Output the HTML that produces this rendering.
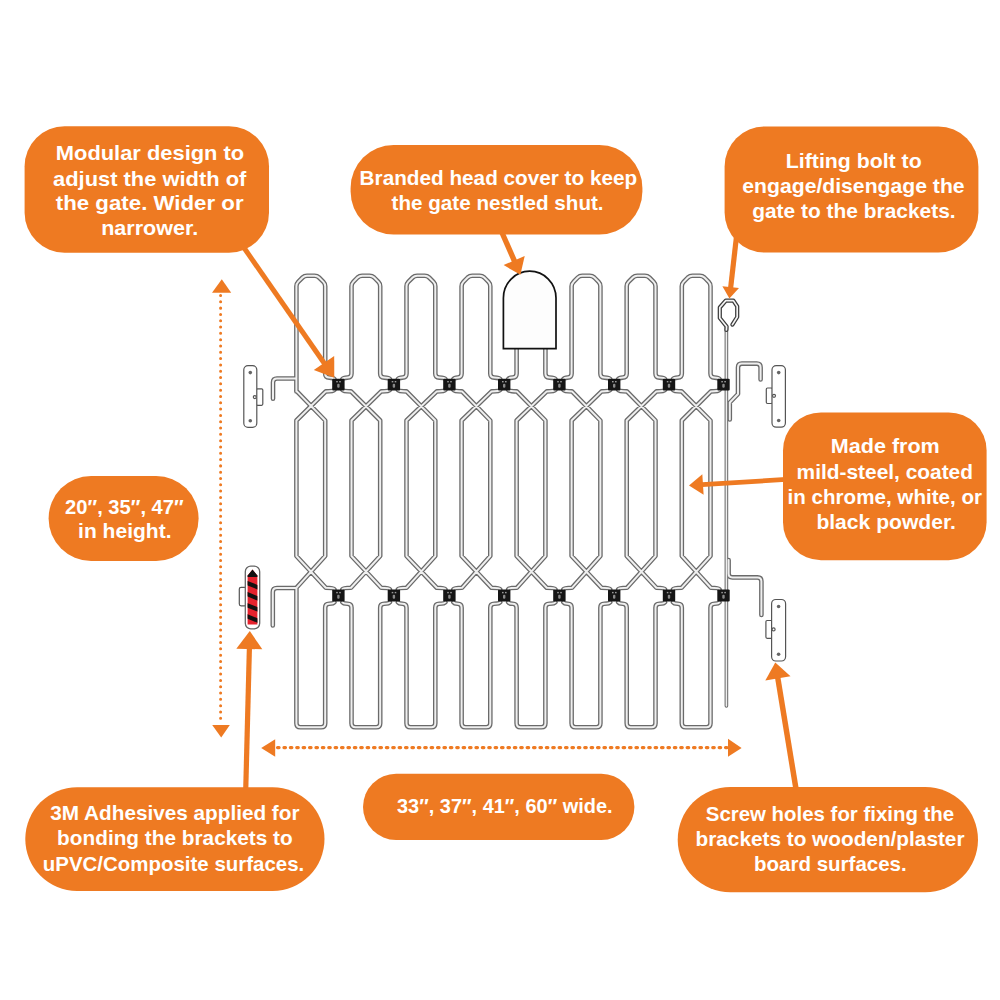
<!DOCTYPE html>
<html lang="en"><head><meta charset="utf-8"><title>Gate features</title>
<style>
html,body{margin:0;padding:0;background:#fff}
body{width:1000px;height:1000px;overflow:hidden}
svg{display:block}
text{font-family:"Liberation Sans",sans-serif;font-weight:bold;font-size:20.8px;fill:#fff}
</style></head><body>
<svg width="1000" height="1000" viewBox="0 0 1000 1000">
<rect width="1000" height="1000" fill="#fff"/>
<!-- arrows under callouts + gate -->
<g fill="none" stroke-linecap="round" stroke-linejoin="round">
<path d="M296.4 391.4 L296.4 286.3 Q296.4 283.7 298.2 281.9 L302.6 277.5 Q304.4 275.7 307 275.7 L314.6 275.7 Q317.2 275.7 319 277.5 L323.4 281.9 Q325.2 283.7 325.2 286.3 L325.2 373.6 Q325.2 377.6 329.2 377.6 Q333.4 377.6 334.4 379.1 M342.4 379.1 Q343.4 377.6 347.5 377.6 Q351.5 377.6 351.5 373.6 L351.5 286.3 Q351.5 283.7 353.3 281.9 L357.6 277.5 Q359.5 275.7 362.1 275.7 L369.6 275.7 Q372.2 275.7 374.1 277.5 L378.4 281.9 Q380.2 283.7 380.2 286.3 L380.2 373.6 Q380.2 377.6 384.2 377.6 Q388.9 377.6 389.9 379.1 M397.9 379.1 Q398.9 377.6 402.5 377.6 Q406.5 377.6 406.5 373.6 L406.5 286.3 Q406.5 283.7 408.3 281.9 L412.7 277.5 Q414.5 275.7 417.1 275.7 L424.7 275.7 Q427.3 275.7 429.1 277.5 L433.5 281.9 Q435.3 283.7 435.3 286.3 L435.3 373.6 Q435.3 377.6 439.3 377.6 Q444.4 377.6 445.4 379.1 M453.4 379.1 Q454.4 377.6 457.6 377.6 Q461.6 377.6 461.6 373.6 L461.6 286.3 Q461.6 283.7 463.4 281.9 L467.7 277.5 Q469.6 275.7 472.2 275.7 L479.7 275.7 Q482.3 275.7 484.2 277.5 L488.5 281.9 Q490.3 283.7 490.3 286.3 L490.3 373.6 Q490.3 377.6 494.3 377.6 Q499.2 377.6 500.2 379.1 M508.2 379.1 Q509.2 377.6 512.6 377.6 Q516.6 377.6 516.6 373.6 L516.6 286.3 Q516.6 283.7 518.4 281.9 L522.8 277.5 Q524.6 275.7 527.2 275.7 L534.8 275.7 Q537.4 275.7 539.2 277.5 L543.6 281.9 Q545.4 283.7 545.4 286.3 L545.4 373.6 Q545.4 377.6 549.4 377.6 Q554.4 377.6 555.4 379.1 M563.4 379.1 Q564.4 377.6 567.6 377.6 Q571.6 377.6 571.6 373.6 L571.6 286.3 Q571.6 283.7 573.5 281.9 L577.8 277.5 Q579.6 275.7 582.2 275.7 L589.8 275.7 Q592.4 275.7 594.3 277.5 L598.6 281.9 Q600.4 283.7 600.4 286.3 L600.4 373.6 Q600.4 377.6 604.4 377.6 Q609.2 377.6 610.2 379.1 M618.2 379.1 Q619.2 377.6 622.7 377.6 Q626.7 377.6 626.7 373.6 L626.7 286.3 Q626.7 283.7 628.5 281.9 L632.9 277.5 Q634.7 275.7 637.3 275.7 L644.9 275.7 Q647.5 275.7 649.3 277.5 L653.7 281.9 Q655.5 283.7 655.5 286.3 L655.5 373.6 Q655.5 377.6 659.5 377.6 Q664 377.6 665 379.1 M673 379.1 Q674 377.6 677.8 377.6 Q681.8 377.6 681.8 373.6 L681.8 286.3 Q681.8 283.7 683.6 281.9 L687.9 277.5 Q689.8 275.7 692.4 275.7 L699.9 275.7 Q702.5 275.7 704.4 277.5 L708.7 281.9 Q710.5 283.7 710.5 286.3 L710.5 373.6 Q710.5 377.6 714.5 377.6 Q718.5 377.6 719.5 379.1 M296.4 587.8 L296.4 723.3 Q296.4 727.3 300.4 727.3 L321.2 727.3 Q325.2 727.3 325.2 723.3 L325.2 607.8 Q325.2 603.8 329.2 603.8 Q333.4 603.8 334.4 602.3 M342.4 602.3 Q343.4 603.8 347.5 603.8 Q351.5 603.8 351.5 607.8 L351.5 723.3 Q351.5 727.3 355.5 727.3 L376.2 727.3 Q380.2 727.3 380.2 723.3 L380.2 607.8 Q380.2 603.8 384.2 603.8 Q388.9 603.8 389.9 602.3 M397.9 602.3 Q398.9 603.8 402.5 603.8 Q406.5 603.8 406.5 607.8 L406.5 723.3 Q406.5 727.3 410.5 727.3 L431.3 727.3 Q435.3 727.3 435.3 723.3 L435.3 607.8 Q435.3 603.8 439.3 603.8 Q444.4 603.8 445.4 602.3 M453.4 602.3 Q454.4 603.8 457.6 603.8 Q461.6 603.8 461.6 607.8 L461.6 723.3 Q461.6 727.3 465.6 727.3 L486.3 727.3 Q490.3 727.3 490.3 723.3 L490.3 607.8 Q490.3 603.8 494.3 603.8 Q499.2 603.8 500.2 602.3 M508.2 602.3 Q509.2 603.8 512.6 603.8 Q516.6 603.8 516.6 607.8 L516.6 723.3 Q516.6 727.3 520.6 727.3 L541.4 727.3 Q545.4 727.3 545.4 723.3 L545.4 607.8 Q545.4 603.8 549.4 603.8 Q554.4 603.8 555.4 602.3 M563.4 602.3 Q564.4 603.8 567.6 603.8 Q571.6 603.8 571.6 607.8 L571.6 723.3 Q571.6 727.3 575.6 727.3 L596.4 727.3 Q600.4 727.3 600.4 723.3 L600.4 607.8 Q600.4 603.8 604.4 603.8 Q609.2 603.8 610.2 602.3 M618.2 602.3 Q619.2 603.8 622.7 603.8 Q626.7 603.8 626.7 607.8 L626.7 723.3 Q626.7 727.3 630.7 727.3 L651.5 727.3 Q655.5 727.3 655.5 723.3 L655.5 607.8 Q655.5 603.8 659.5 603.8 Q664 603.8 665 602.3 M673 602.3 Q674 603.8 677.8 603.8 Q681.8 603.8 681.8 607.8 L681.8 723.3 Q681.8 727.3 685.8 727.3 L706.5 727.3 Q710.5 727.3 710.5 723.3 L710.5 607.8 Q710.5 603.8 714.5 603.8 Q718.5 603.8 719.5 602.3 M334.4 389.9 Q333.4 391.4 325.8 391.4 L296.4 420.5 L296.4 556 L325.8 587.8 Q333.4 587.8 334.4 589.3 M342.4 389.9 Q343.4 391.4 351 391.4 L380.2 420.5 L380.2 556 L351 587.8 Q343.4 587.8 342.4 589.3 M389.9 389.9 Q388.9 391.4 381.2 391.4 L351.5 420.5 L351.5 556 L381.2 587.8 Q388.9 587.8 389.9 589.3 M397.9 389.9 Q398.9 391.4 406.5 391.4 L435.3 420.5 L435.3 556 L406.5 587.8 Q398.9 587.8 397.9 589.3 M445.4 389.9 Q444.4 391.4 436.8 391.4 L406.5 420.5 L406.5 556 L436.8 587.8 Q444.4 587.8 445.4 589.3 M453.4 389.9 Q454.4 391.4 462 391.4 L490.3 420.5 L490.3 556 L462 587.8 Q454.4 587.8 453.4 589.3 M500.2 389.9 Q499.2 391.4 491.6 391.4 L461.6 420.5 L461.6 556 L491.6 587.8 Q499.2 587.8 500.2 589.3 M508.2 389.9 Q509.2 391.4 516.8 391.4 L545.4 420.5 L545.4 556 L516.8 587.8 Q509.2 587.8 508.2 589.3 M555.4 389.9 Q554.4 391.4 546.8 391.4 L516.6 420.5 L516.6 556 L546.8 587.8 Q554.4 587.8 555.4 589.3 M563.4 389.9 Q564.4 391.4 572 391.4 L600.4 420.5 L600.4 556 L572 587.8 Q564.4 587.8 563.4 589.3 M610.2 389.9 Q609.2 391.4 601.6 391.4 L571.6 420.5 L571.6 556 L601.6 587.8 Q609.2 587.8 610.2 589.3 M618.2 389.9 Q619.2 391.4 626.9 391.4 L655.5 420.5 L655.5 556 L626.9 587.8 Q619.2 587.8 618.2 589.3 M665 389.9 Q664 391.4 656.4 391.4 L626.7 420.5 L626.7 556 L656.4 587.8 Q664 587.8 665 589.3 M673 389.9 Q674 391.4 681.6 391.4 L710.5 420.5 L710.5 556 L681.6 587.8 Q674 587.8 673 589.3 M719.5 389.9 Q718.5 391.4 710.9 391.4 L681.8 420.5 L681.8 556 L710.9 587.8 Q718.5 587.8 719.5 589.3 M296.4 390.9 L325.2 420.5 L325.2 556 L296.4 587.8 M296.4 378.5 L277 378.5 Q273 378.5 273 382.5 L273 398.8 M296.4 588 L277 588 Q272.8 588 272.8 592 L272.8 625.5 M760.6 379.5 L760.6 367.5 Q760.6 363.6 756.8 363.6 L741.8 363.6 Q738 363.6 738 367.5 L738 394 L729.8 402.5 L729.8 419.5 M728.6 560 L728.6 573.5 Q728.6 577.4 732.4 577.4 L757.5 577.4 Q761.4 577.4 761.4 581.3 L761.4 615" stroke="#6a6a6a" stroke-width="4.6"/>
<path d="M726.4 327 L726.4 706" stroke="#666" stroke-width="3.6"/>
<path d="M296.4 391.4 L296.4 286.3 Q296.4 283.7 298.2 281.9 L302.6 277.5 Q304.4 275.7 307 275.7 L314.6 275.7 Q317.2 275.7 319 277.5 L323.4 281.9 Q325.2 283.7 325.2 286.3 L325.2 373.6 Q325.2 377.6 329.2 377.6 Q333.4 377.6 334.4 379.1 M342.4 379.1 Q343.4 377.6 347.5 377.6 Q351.5 377.6 351.5 373.6 L351.5 286.3 Q351.5 283.7 353.3 281.9 L357.6 277.5 Q359.5 275.7 362.1 275.7 L369.6 275.7 Q372.2 275.7 374.1 277.5 L378.4 281.9 Q380.2 283.7 380.2 286.3 L380.2 373.6 Q380.2 377.6 384.2 377.6 Q388.9 377.6 389.9 379.1 M397.9 379.1 Q398.9 377.6 402.5 377.6 Q406.5 377.6 406.5 373.6 L406.5 286.3 Q406.5 283.7 408.3 281.9 L412.7 277.5 Q414.5 275.7 417.1 275.7 L424.7 275.7 Q427.3 275.7 429.1 277.5 L433.5 281.9 Q435.3 283.7 435.3 286.3 L435.3 373.6 Q435.3 377.6 439.3 377.6 Q444.4 377.6 445.4 379.1 M453.4 379.1 Q454.4 377.6 457.6 377.6 Q461.6 377.6 461.6 373.6 L461.6 286.3 Q461.6 283.7 463.4 281.9 L467.7 277.5 Q469.6 275.7 472.2 275.7 L479.7 275.7 Q482.3 275.7 484.2 277.5 L488.5 281.9 Q490.3 283.7 490.3 286.3 L490.3 373.6 Q490.3 377.6 494.3 377.6 Q499.2 377.6 500.2 379.1 M508.2 379.1 Q509.2 377.6 512.6 377.6 Q516.6 377.6 516.6 373.6 L516.6 286.3 Q516.6 283.7 518.4 281.9 L522.8 277.5 Q524.6 275.7 527.2 275.7 L534.8 275.7 Q537.4 275.7 539.2 277.5 L543.6 281.9 Q545.4 283.7 545.4 286.3 L545.4 373.6 Q545.4 377.6 549.4 377.6 Q554.4 377.6 555.4 379.1 M563.4 379.1 Q564.4 377.6 567.6 377.6 Q571.6 377.6 571.6 373.6 L571.6 286.3 Q571.6 283.7 573.5 281.9 L577.8 277.5 Q579.6 275.7 582.2 275.7 L589.8 275.7 Q592.4 275.7 594.3 277.5 L598.6 281.9 Q600.4 283.7 600.4 286.3 L600.4 373.6 Q600.4 377.6 604.4 377.6 Q609.2 377.6 610.2 379.1 M618.2 379.1 Q619.2 377.6 622.7 377.6 Q626.7 377.6 626.7 373.6 L626.7 286.3 Q626.7 283.7 628.5 281.9 L632.9 277.5 Q634.7 275.7 637.3 275.7 L644.9 275.7 Q647.5 275.7 649.3 277.5 L653.7 281.9 Q655.5 283.7 655.5 286.3 L655.5 373.6 Q655.5 377.6 659.5 377.6 Q664 377.6 665 379.1 M673 379.1 Q674 377.6 677.8 377.6 Q681.8 377.6 681.8 373.6 L681.8 286.3 Q681.8 283.7 683.6 281.9 L687.9 277.5 Q689.8 275.7 692.4 275.7 L699.9 275.7 Q702.5 275.7 704.4 277.5 L708.7 281.9 Q710.5 283.7 710.5 286.3 L710.5 373.6 Q710.5 377.6 714.5 377.6 Q718.5 377.6 719.5 379.1 M296.4 587.8 L296.4 723.3 Q296.4 727.3 300.4 727.3 L321.2 727.3 Q325.2 727.3 325.2 723.3 L325.2 607.8 Q325.2 603.8 329.2 603.8 Q333.4 603.8 334.4 602.3 M342.4 602.3 Q343.4 603.8 347.5 603.8 Q351.5 603.8 351.5 607.8 L351.5 723.3 Q351.5 727.3 355.5 727.3 L376.2 727.3 Q380.2 727.3 380.2 723.3 L380.2 607.8 Q380.2 603.8 384.2 603.8 Q388.9 603.8 389.9 602.3 M397.9 602.3 Q398.9 603.8 402.5 603.8 Q406.5 603.8 406.5 607.8 L406.5 723.3 Q406.5 727.3 410.5 727.3 L431.3 727.3 Q435.3 727.3 435.3 723.3 L435.3 607.8 Q435.3 603.8 439.3 603.8 Q444.4 603.8 445.4 602.3 M453.4 602.3 Q454.4 603.8 457.6 603.8 Q461.6 603.8 461.6 607.8 L461.6 723.3 Q461.6 727.3 465.6 727.3 L486.3 727.3 Q490.3 727.3 490.3 723.3 L490.3 607.8 Q490.3 603.8 494.3 603.8 Q499.2 603.8 500.2 602.3 M508.2 602.3 Q509.2 603.8 512.6 603.8 Q516.6 603.8 516.6 607.8 L516.6 723.3 Q516.6 727.3 520.6 727.3 L541.4 727.3 Q545.4 727.3 545.4 723.3 L545.4 607.8 Q545.4 603.8 549.4 603.8 Q554.4 603.8 555.4 602.3 M563.4 602.3 Q564.4 603.8 567.6 603.8 Q571.6 603.8 571.6 607.8 L571.6 723.3 Q571.6 727.3 575.6 727.3 L596.4 727.3 Q600.4 727.3 600.4 723.3 L600.4 607.8 Q600.4 603.8 604.4 603.8 Q609.2 603.8 610.2 602.3 M618.2 602.3 Q619.2 603.8 622.7 603.8 Q626.7 603.8 626.7 607.8 L626.7 723.3 Q626.7 727.3 630.7 727.3 L651.5 727.3 Q655.5 727.3 655.5 723.3 L655.5 607.8 Q655.5 603.8 659.5 603.8 Q664 603.8 665 602.3 M673 602.3 Q674 603.8 677.8 603.8 Q681.8 603.8 681.8 607.8 L681.8 723.3 Q681.8 727.3 685.8 727.3 L706.5 727.3 Q710.5 727.3 710.5 723.3 L710.5 607.8 Q710.5 603.8 714.5 603.8 Q718.5 603.8 719.5 602.3 M334.4 389.9 Q333.4 391.4 325.8 391.4 L296.4 420.5 L296.4 556 L325.8 587.8 Q333.4 587.8 334.4 589.3 M342.4 389.9 Q343.4 391.4 351 391.4 L380.2 420.5 L380.2 556 L351 587.8 Q343.4 587.8 342.4 589.3 M389.9 389.9 Q388.9 391.4 381.2 391.4 L351.5 420.5 L351.5 556 L381.2 587.8 Q388.9 587.8 389.9 589.3 M397.9 389.9 Q398.9 391.4 406.5 391.4 L435.3 420.5 L435.3 556 L406.5 587.8 Q398.9 587.8 397.9 589.3 M445.4 389.9 Q444.4 391.4 436.8 391.4 L406.5 420.5 L406.5 556 L436.8 587.8 Q444.4 587.8 445.4 589.3 M453.4 389.9 Q454.4 391.4 462 391.4 L490.3 420.5 L490.3 556 L462 587.8 Q454.4 587.8 453.4 589.3 M500.2 389.9 Q499.2 391.4 491.6 391.4 L461.6 420.5 L461.6 556 L491.6 587.8 Q499.2 587.8 500.2 589.3 M508.2 389.9 Q509.2 391.4 516.8 391.4 L545.4 420.5 L545.4 556 L516.8 587.8 Q509.2 587.8 508.2 589.3 M555.4 389.9 Q554.4 391.4 546.8 391.4 L516.6 420.5 L516.6 556 L546.8 587.8 Q554.4 587.8 555.4 589.3 M563.4 389.9 Q564.4 391.4 572 391.4 L600.4 420.5 L600.4 556 L572 587.8 Q564.4 587.8 563.4 589.3 M610.2 389.9 Q609.2 391.4 601.6 391.4 L571.6 420.5 L571.6 556 L601.6 587.8 Q609.2 587.8 610.2 589.3 M618.2 389.9 Q619.2 391.4 626.9 391.4 L655.5 420.5 L655.5 556 L626.9 587.8 Q619.2 587.8 618.2 589.3 M665 389.9 Q664 391.4 656.4 391.4 L626.7 420.5 L626.7 556 L656.4 587.8 Q664 587.8 665 589.3 M673 389.9 Q674 391.4 681.6 391.4 L710.5 420.5 L710.5 556 L681.6 587.8 Q674 587.8 673 589.3 M719.5 389.9 Q718.5 391.4 710.9 391.4 L681.8 420.5 L681.8 556 L710.9 587.8 Q718.5 587.8 719.5 589.3 M296.4 390.9 L325.2 420.5 L325.2 556 L296.4 587.8 M296.4 378.5 L277 378.5 Q273 378.5 273 382.5 L273 398.8 M296.4 588 L277 588 Q272.8 588 272.8 592 L272.8 625.5 M760.6 379.5 L760.6 367.5 Q760.6 363.6 756.8 363.6 L741.8 363.6 Q738 363.6 738 367.5 L738 394 L729.8 402.5 L729.8 419.5 M728.6 560 L728.6 573.5 Q728.6 577.4 732.4 577.4 L757.5 577.4 Q761.4 577.4 761.4 581.3 L761.4 615" stroke="#efefef" stroke-width="2.0"/>
<path d="M726.4 327 L726.4 706" stroke="#efefef" stroke-width="1.6"/>
<path d="M726.4 330 L726.6 326.5 L719.8 318 L719.8 307.5 L725.8 300.6 L733.4 300.6 L737.2 306.4 L737.2 317 L732.4 324.6" stroke="#3c3c3c" stroke-width="4.2"/>
<path d="M726.4 330 L726.6 326.5 L719.8 318 L719.8 307.5 L725.8 300.6 L733.4 300.6 L737.2 306.4 L737.2 317 L732.4 324.6" stroke="#f4f4f4" stroke-width="1.7"/>
</g>
<g transform="translate(338.4 384.6)"><rect x="-6.2" y="-5.9" width="12.4" height="11.8" rx="1" fill="#151515"/><rect x="-2.2" y="-3.6" width="1.6" height="1.4" fill="#999"/><rect x="0.8" y="-3.6" width="1.6" height="1.4" fill="#999"/><rect x="-1.2" y="-0.8" width="2.4" height="4" rx="1" fill="#8a8a8a"/></g>
<g transform="translate(338.4 595.5)"><rect x="-6.2" y="-5.9" width="12.4" height="11.8" rx="1" fill="#151515"/><rect x="-2.2" y="-3.6" width="1.6" height="1.4" fill="#999"/><rect x="0.8" y="-3.6" width="1.6" height="1.4" fill="#999"/><rect x="-1.2" y="-0.8" width="2.4" height="4" rx="1" fill="#8a8a8a"/></g>
<g transform="translate(393.9 384.6)"><rect x="-6.2" y="-5.9" width="12.4" height="11.8" rx="1" fill="#151515"/><rect x="-2.2" y="-3.6" width="1.6" height="1.4" fill="#999"/><rect x="0.8" y="-3.6" width="1.6" height="1.4" fill="#999"/><rect x="-1.2" y="-0.8" width="2.4" height="4" rx="1" fill="#8a8a8a"/></g>
<g transform="translate(393.9 595.5)"><rect x="-6.2" y="-5.9" width="12.4" height="11.8" rx="1" fill="#151515"/><rect x="-2.2" y="-3.6" width="1.6" height="1.4" fill="#999"/><rect x="0.8" y="-3.6" width="1.6" height="1.4" fill="#999"/><rect x="-1.2" y="-0.8" width="2.4" height="4" rx="1" fill="#8a8a8a"/></g>
<g transform="translate(449.4 384.6)"><rect x="-6.2" y="-5.9" width="12.4" height="11.8" rx="1" fill="#151515"/><rect x="-2.2" y="-3.6" width="1.6" height="1.4" fill="#999"/><rect x="0.8" y="-3.6" width="1.6" height="1.4" fill="#999"/><rect x="-1.2" y="-0.8" width="2.4" height="4" rx="1" fill="#8a8a8a"/></g>
<g transform="translate(449.4 595.5)"><rect x="-6.2" y="-5.9" width="12.4" height="11.8" rx="1" fill="#151515"/><rect x="-2.2" y="-3.6" width="1.6" height="1.4" fill="#999"/><rect x="0.8" y="-3.6" width="1.6" height="1.4" fill="#999"/><rect x="-1.2" y="-0.8" width="2.4" height="4" rx="1" fill="#8a8a8a"/></g>
<g transform="translate(504.2 384.6)"><rect x="-6.2" y="-5.9" width="12.4" height="11.8" rx="1" fill="#151515"/><rect x="-2.2" y="-3.6" width="1.6" height="1.4" fill="#999"/><rect x="0.8" y="-3.6" width="1.6" height="1.4" fill="#999"/><rect x="-1.2" y="-0.8" width="2.4" height="4" rx="1" fill="#8a8a8a"/></g>
<g transform="translate(504.2 595.5)"><rect x="-6.2" y="-5.9" width="12.4" height="11.8" rx="1" fill="#151515"/><rect x="-2.2" y="-3.6" width="1.6" height="1.4" fill="#999"/><rect x="0.8" y="-3.6" width="1.6" height="1.4" fill="#999"/><rect x="-1.2" y="-0.8" width="2.4" height="4" rx="1" fill="#8a8a8a"/></g>
<g transform="translate(559.4 384.6)"><rect x="-6.2" y="-5.9" width="12.4" height="11.8" rx="1" fill="#151515"/><rect x="-2.2" y="-3.6" width="1.6" height="1.4" fill="#999"/><rect x="0.8" y="-3.6" width="1.6" height="1.4" fill="#999"/><rect x="-1.2" y="-0.8" width="2.4" height="4" rx="1" fill="#8a8a8a"/></g>
<g transform="translate(559.4 595.5)"><rect x="-6.2" y="-5.9" width="12.4" height="11.8" rx="1" fill="#151515"/><rect x="-2.2" y="-3.6" width="1.6" height="1.4" fill="#999"/><rect x="0.8" y="-3.6" width="1.6" height="1.4" fill="#999"/><rect x="-1.2" y="-0.8" width="2.4" height="4" rx="1" fill="#8a8a8a"/></g>
<g transform="translate(614.2 384.6)"><rect x="-6.2" y="-5.9" width="12.4" height="11.8" rx="1" fill="#151515"/><rect x="-2.2" y="-3.6" width="1.6" height="1.4" fill="#999"/><rect x="0.8" y="-3.6" width="1.6" height="1.4" fill="#999"/><rect x="-1.2" y="-0.8" width="2.4" height="4" rx="1" fill="#8a8a8a"/></g>
<g transform="translate(614.2 595.5)"><rect x="-6.2" y="-5.9" width="12.4" height="11.8" rx="1" fill="#151515"/><rect x="-2.2" y="-3.6" width="1.6" height="1.4" fill="#999"/><rect x="0.8" y="-3.6" width="1.6" height="1.4" fill="#999"/><rect x="-1.2" y="-0.8" width="2.4" height="4" rx="1" fill="#8a8a8a"/></g>
<g transform="translate(669 384.6)"><rect x="-6.2" y="-5.9" width="12.4" height="11.8" rx="1" fill="#151515"/><rect x="-2.2" y="-3.6" width="1.6" height="1.4" fill="#999"/><rect x="0.8" y="-3.6" width="1.6" height="1.4" fill="#999"/><rect x="-1.2" y="-0.8" width="2.4" height="4" rx="1" fill="#8a8a8a"/></g>
<g transform="translate(669 595.5)"><rect x="-6.2" y="-5.9" width="12.4" height="11.8" rx="1" fill="#151515"/><rect x="-2.2" y="-3.6" width="1.6" height="1.4" fill="#999"/><rect x="0.8" y="-3.6" width="1.6" height="1.4" fill="#999"/><rect x="-1.2" y="-0.8" width="2.4" height="4" rx="1" fill="#8a8a8a"/></g>
<g transform="translate(723.5 384.6)"><rect x="-6.2" y="-5.9" width="12.4" height="11.8" rx="1" fill="#151515"/><rect x="-2.2" y="-3.6" width="1.6" height="1.4" fill="#999"/><rect x="0.8" y="-3.6" width="1.6" height="1.4" fill="#999"/><rect x="-1.2" y="-0.8" width="2.4" height="4" rx="1" fill="#8a8a8a"/></g>
<g transform="translate(723.5 595.5)"><rect x="-6.2" y="-5.9" width="12.4" height="11.8" rx="1" fill="#151515"/><rect x="-2.2" y="-3.6" width="1.6" height="1.4" fill="#999"/><rect x="0.8" y="-3.6" width="1.6" height="1.4" fill="#999"/><rect x="-1.2" y="-0.8" width="2.4" height="4" rx="1" fill="#8a8a8a"/></g>
<path d="M503.4 348.6 L503.4 298 A26.3 26.8 0 0 1 556 298 L556 348.6 Z" fill="#fdfdfd" stroke="#111" stroke-width="1.7" stroke-linejoin="miter"/>
<g fill="#fff" stroke="#555" stroke-width="1.2"><rect x="256.3" y="388.8" width="6.5" height="16.5" rx="1.2"/><rect x="243.8" y="365.6" width="13" height="61.8" rx="4.2"/><circle cx="254.8" cy="397.1" r="1.5"/><circle cx="250.3" cy="372.6" r="1.8" fill="#666" stroke="none"/><circle cx="250.3" cy="420.7" r="1.8" fill="#666" stroke="none"/></g>
<g fill="#fff" stroke="#555" stroke-width="1.2"><rect x="766.3" y="388" width="6.2" height="15.5" rx="1.2"/><rect x="772" y="365.6" width="13.4" height="61.6" rx="4.2"/><circle cx="774" cy="395.8" r="1.5"/><circle cx="778.7" cy="372.6" r="1.8" fill="#666" stroke="none"/><circle cx="778.7" cy="420.5" r="1.8" fill="#666" stroke="none"/></g>
<g fill="#fff" stroke="#555" stroke-width="1.2"><rect x="765.9" y="620.5" width="6.2" height="17.8" rx="1.2"/><rect x="771.6" y="599.5" width="14" height="61.5" rx="4.2"/><circle cx="773.6" cy="629.4" r="1.5"/><circle cx="778.6" cy="606.5" r="1.8" fill="#666" stroke="none"/><circle cx="778.6" cy="654.3" r="1.8" fill="#666" stroke="none"/></g>
<g><rect x="239.3" y="587.3" width="7" height="18.6" rx="1.8" fill="#fff" stroke="#555" stroke-width="1.2"/><rect x="245.3" y="566.2" width="14.4" height="62.6" rx="5.5" fill="#fff" stroke="#666" stroke-width="1.3"/><clipPath id="adh"><path d="M247.6 575.5 L252.5 569.5 L257.4 575.5 L257.4 624.5 L247.6 624.5 Z"/></clipPath><g clip-path="url(#adh)"><rect x="246" y="568" width="13" height="58" fill="#E5232E"/><path d="M246 577 L252.5 569 L259 577 Z" fill="#111"/><path d="M245 582.2 L260 588.2" stroke="#111" stroke-width="4.2"/><path d="M245 593.3 L260 599.3" stroke="#111" stroke-width="4.2"/><path d="M245 604.4 L260 610.4" stroke="#111" stroke-width="4.2"/><path d="M245 615.5 L260 621.5" stroke="#111" stroke-width="4.2"/></g></g>
<line x1="240" y1="242" x2="324.6" y2="363.8" stroke="#EE7A22" stroke-width="5.0"/><polygon points="334.3,377.8 313.8,370.1 334.2,355.9" fill="#EE7A22"/>
<line x1="500" y1="228" x2="514.6" y2="261.4" stroke="#EE7A22" stroke-width="5.4"/><polygon points="520.4,274.8 503.6,265.1 524.7,255.9" fill="#EE7A22"/>
<line x1="737" y1="232" x2="730.6" y2="288.2" stroke="#EE7A22" stroke-width="5.2"/><polygon points="729.4,298.6 722.4,286.2 739,288.1" fill="#EE7A22"/>
<line x1="790" y1="479.2" x2="702" y2="484.6" stroke="#EE7A22" stroke-width="4.8"/><polygon points="689,485.4 702.3,474.3 703.6,494.8" fill="#EE7A22"/>
<line x1="245.6" y1="795" x2="249.4" y2="648" stroke="#EE7A22" stroke-width="5.2"/><polygon points="249.8,631 262.3,649.3 236.3,648.7" fill="#EE7A22"/>
<line x1="797" y1="795" x2="777.7" y2="677.4" stroke="#EE7A22" stroke-width="5.5"/><polygon points="775.3,662.5 790.5,676.3 765.3,680.5" fill="#EE7A22"/>
<line x1="220.6" y1="295.5" x2="220.6" y2="724" stroke="#EE7A22" stroke-width="3" stroke-linecap="round" stroke-dasharray="0.01 6.3"/>
<polygon points="221.8,279.2 212,292.8 231.2,292.8" fill="#EE7A22"/>
<polygon points="221.2,737.4 212.2,725 229.8,725" fill="#EE7A22"/>
<line x1="277.5" y1="747.6" x2="727" y2="747.6" stroke="#EE7A22" stroke-width="3.1" stroke-linecap="round" stroke-dasharray="1.6 4.8"/>
<polygon points="261.2,748 275.2,739.2 275.2,756.8" fill="#EE7A22"/>
<polygon points="741.6,748 728,738.8 728,756.8" fill="#EE7A22"/>
<!-- callout boxes -->
<rect x="24.6" y="126.2" width="244.4" height="126.6" rx="40" fill="#EE7A22"/>
<rect x="350.6" y="145" width="291.8" height="89.6" rx="43" fill="#EE7A22"/>
<rect x="724.6" y="126.5" width="253.8" height="126" rx="40" fill="#EE7A22"/>
<rect x="783" y="412.4" width="203.6" height="147.8" rx="38" fill="#EE7A22"/>
<rect x="48.6" y="475.9" width="150" height="85" rx="42.5" fill="#EE7A22"/>
<rect x="25.3" y="787.2" width="299.2" height="103.7" rx="51.8" fill="#EE7A22"/>
<rect x="363" y="773.8" width="271.4" height="66.2" rx="33.1" fill="#EE7A22"/>
<rect x="677.7" y="786.9" width="300.3" height="105.4" rx="52.7" fill="#EE7A22"/>
<text x="55.8" y="160.4" textLength="188.4" lengthAdjust="spacingAndGlyphs">Modular design to</text><text x="53" y="185.6" textLength="193.4" lengthAdjust="spacingAndGlyphs">adjust the width of</text><text x="55.8" y="210.3" textLength="187.8" lengthAdjust="spacingAndGlyphs">the gate. Wider or</text><text x="101.2" y="234.8" textLength="97" lengthAdjust="spacingAndGlyphs">narrower.</text><text x="359.6" y="185" textLength="277.6" lengthAdjust="spacingAndGlyphs">Branded head cover to keep</text><text x="391.6" y="209.6" textLength="212" lengthAdjust="spacingAndGlyphs">the gate nestled shut.</text><text x="785.8" y="167.6" textLength="135.9" lengthAdjust="spacingAndGlyphs">Lifting bolt to</text><text x="742.3" y="193" textLength="222.3" lengthAdjust="spacingAndGlyphs">engage/disengage the</text><text x="752.2" y="218" textLength="203.4" lengthAdjust="spacingAndGlyphs">gate to the brackets.</text><text x="830.8" y="453" textLength="109" lengthAdjust="spacingAndGlyphs">Made from</text><text x="796.6" y="478.6" textLength="176.4" lengthAdjust="spacingAndGlyphs">mild-steel, coated</text><text x="787.6" y="503.6" textLength="194.4" lengthAdjust="spacingAndGlyphs">in chrome, white, or</text><text x="816.4" y="528.6" textLength="139.4" lengthAdjust="spacingAndGlyphs">black powder.</text><text x="65.1" y="513.6" textLength="118.6" lengthAdjust="spacingAndGlyphs">20″, 35″, 47″</text><text x="78.1" y="538.3" textLength="93.4" lengthAdjust="spacingAndGlyphs">in height.</text><text x="50.3" y="820.2" textLength="249.2" lengthAdjust="spacingAndGlyphs">3M Adhesives applied for</text><text x="57.1" y="845" textLength="235.6" lengthAdjust="spacingAndGlyphs">bonding the brackets to</text><text x="42.8" y="870.5" textLength="261.4" lengthAdjust="spacingAndGlyphs">uPVC/Composite surfaces.</text><text x="397" y="812.8" textLength="215.6" lengthAdjust="spacingAndGlyphs">33″, 37″, 41″, 60″ wide.</text><text x="705.8" y="821.2" textLength="248.4" lengthAdjust="spacingAndGlyphs">Screw holes for fixing the</text><text x="695.5" y="846.4" textLength="269" lengthAdjust="spacingAndGlyphs">brackets to wooden/plaster</text><text x="754" y="871.2" textLength="152.7" lengthAdjust="spacingAndGlyphs">board surfaces.</text>
</svg>
</body></html>
